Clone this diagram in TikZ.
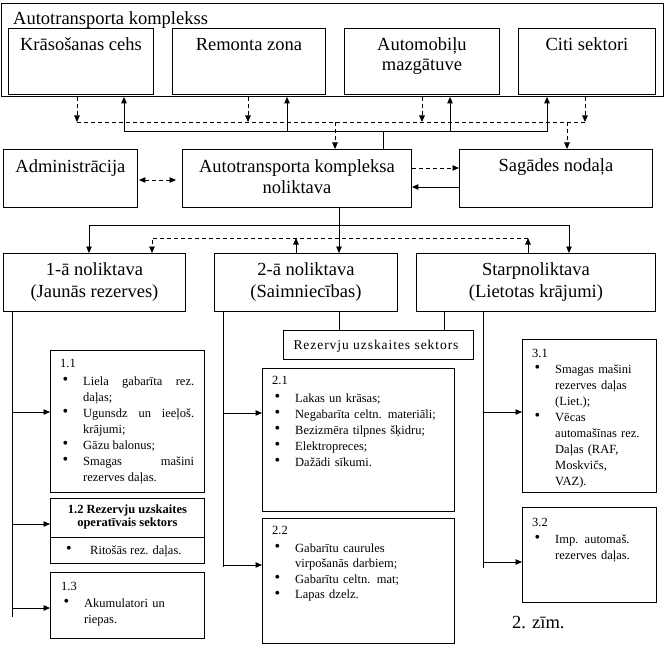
\documentclass[tikz,border=0pt]{standalone}
\usepackage{fontspec}
\setmainfont{Liberation Serif}
\usetikzlibrary{arrows.meta}
\setlength\parindent{0pt}
\newcommand\blt{\raisebox{0.5pt}{\fontsize{16}{16}\selectfont\textbullet}}
\newcommand\bitem[1]{\par\hangindent=23pt\hangafter=1\noindent\makebox[23pt][l]{\hspace{2.5pt}\blt}#1\par}
\newcommand\bigf{\fontsize{18.5}{21}\selectfont}
\newcommand\smf{\fontsize{12.5}{16}\selectfont}
\newcommand\tstr{\rule{0pt}{14pt}}
\newcommand\sstr{\rule{0pt}{10pt}}
\begin{document}
\begin{tikzpicture}[x=1pt,y=-1pt,
  every node/.style={inner sep=0pt},
  box/.style={draw, line width=0.9pt, anchor=north west},
  ln/.style={line width=0.9pt},
  arr/.style={ln, -{Triangle[length=6.5pt,width=5.5pt]}},
  dsh/.style={ln, dash pattern=on 4pt off 3pt},
  darr/.style={dsh, -{Triangle[length=6.5pt,width=5.5pt]}},
  lbl/.style={anchor=north, align=center, font=\bigf},
  txt/.style={anchor=north west, font=\smf, align=left},
]
\useasboundingbox (0,0) rectangle (668,647);

% ---- boxes ----
\node[box, minimum width=662pt, minimum height=93pt] (outer) at (1,3) {};
\node[box, minimum width=145pt, minimum height=66pt] (kras) at (8,28) {};
\node[box, minimum width=153pt, minimum height=66pt] (rem) at (172,28) {};
\node[box, minimum width=155pt, minimum height=66pt] (auto) at (344,28) {};
\node[box, minimum width=137pt, minimum height=66pt] (citi) at (518,28) {};
\node[box, minimum width=134pt, minimum height=58pt] (adm) at (3,149) {};
\node[box, minimum width=229pt, minimum height=58pt] (nol) at (182,149) {};
\node[box, minimum width=193pt, minimum height=58pt] (sag) at (459,149) {};
\node[box, minimum width=182pt, minimum height=58pt] (n1) at (3,253) {};
\node[box, minimum width=183pt, minimum height=58pt] (n2) at (214,253) {};
\node[box, minimum width=239pt, minimum height=58pt] (n3) at (416,253) {};
\node[box, minimum width=190pt, minimum height=29pt] (rez) at (283,330) {};
\node[box, minimum width=154pt, minimum height=142pt] (b11) at (50,350) {};
\node[box, minimum width=154pt, minimum height=65pt] (b12) at (50,498) {};
\node[box, minimum width=154pt, minimum height=66pt] (b13) at (50,572) {};
\node[box, minimum width=192pt, minimum height=143pt] (b21) at (262,368) {};
\node[box, minimum width=192pt, minimum height=125pt] (b22) at (262,518) {};
\node[box, minimum width=134pt, minimum height=153pt] (b31) at (522,339) {};
\node[box, minimum width=134pt, minimum height=95pt] (b32) at (522,507) {};

% ---- big labels ----
\node[anchor=base west, font=\bigf] (outer-t) at (13,25) {Autotransporta komplekss};
\node[lbl] (kras-t) at (kras.north |- 0,36) {\tstr Krāsošanas cehs};
\node[lbl] (rem-t) at (rem.north |- 0,36) {\tstr Remonta zona};
\node[lbl, font=\fontsize{18.5}{20}\selectfont] (auto-t) at (auto.north |- 0,36) {\tstr Automobiļu\\mazgātuve};
\node[lbl] (citi-t) at (citi.north |- 0,36) {\tstr Citi sektori};
\node[lbl] (adm-t) at (adm.north |- 0,158) {\tstr Administrācija};
\node[lbl] (nol-t) at (nol.north |- 0,158) {\tstr Autotransporta kompleksa\\noliktava};
\node[lbl] (sag-t) at (sag.north |- 0,157) {\tstr Sagādes nodaļa};
\node[lbl, font=\fontsize{18.5}{22}\selectfont] (n1-t) at (n1.north |- 0,261) {\tstr 1-ā noliktava\\(Jaunās rezerves)};
\node[lbl, font=\fontsize{18.5}{22}\selectfont] (n2-t) at (n2.north |- 0,261) {\tstr 2-ā noliktava\\(Saimniecības)};
\node[lbl, font=\fontsize{18.5}{22}\selectfont] (n3-t) at (n3.north |- 0,261) {\tstr Starpnoliktava\\(Lietotas krājumi)};
\node[anchor=base, font=\fontsize{13.5}{16}\selectfont\addfontfeature{LetterSpace=7}] (rez-t) at (376,349) {Rezervju uzskaites sektors};
\node[anchor=base west, font=\bigf] (fig) at (512,628) {2. zīm.};

% ---- small text boxes ----
\node[txt, text width=134pt, align=justify] (t11) at (60,357) {\sstr 1.1\par\vspace{2pt}
\bitem{Liela gabarīta rez.\linebreak daļas;}
\bitem{Ugunsdz un ieeļoš.\linebreak krājumi;}
\bitem{Gāzu balonus;}
\bitem{Smagas mašini\linebreak rezerves daļas.}};

\node[anchor=north, align=center, font=\bfseries\fontsize{12.5}{13}\selectfont] (t12h) at (b12.north |- 0,503) {\sstr 1.2 Rezervju uzskaites\\operatīvais sektors};
\draw[ln] (b12.west |- 0,537) -- (b12.east |- 0,537);
\node[anchor=base west, font=\smf] (t12b) at (66,554) {\makebox[24pt][l]{\blt}Ritošās rez. daļas.};

\node[txt, text width=133pt] (t13) at (61,580) {\sstr 1.3\par\vspace{1pt}
\bitem{Akumulatori un\linebreak riepas.}};

\node[txt, text width=172pt] (t21) at (272,374) {\sstr 2.1\par\vspace{2pt}
\bitem{Lakas un krāsas;}
\bitem{Negabarīta celtn. materiāli;}
\bitem{Bezizmēra tilpnes šķidru;}
\bitem{Elektropreces;}
\bitem{Dažādi sīkumi.}};

\node[txt, text width=172pt, font=\fontsize{12.5}{15.5}\selectfont] (t22) at (272,524) {\sstr 2.2\par\vspace{2.5pt}
\bitem{Gabarītu caurules\linebreak virpošanās darbiem;}
\bitem{Gabarītu celtn. mat;}
\bitem{Lapas dzelz.}};

\node[txt, text width=114pt] (t31) at (532,347) {\sstr 3.1\par\vspace{0pt}
\bitem{Smagas mašini\linebreak rezerves daļas\linebreak (Liet.);}
\bitem{Vēcas\linebreak automašīnas rez.\linebreak Daļas (RAF,\linebreak Moskvičs,\linebreak VAZ).}};

\node[txt, text width=114pt] (t32) at (532,516) {\sstr 3.2\par\vspace{1pt}
\bitem{Imp. automaš.\linebreak rezerves daļas.}};

% ---- top connectors ----
\coordinate (s0) at (383,131);
\draw[ln] (nol.north -| s0) -- (s0);
\draw[arr] (s0) -| (outer.south -| 124,0);
\draw[arr] (s0) -| (outer.south -| 287,0);
\draw[arr] (s0) -| (outer.south -| 450,0);
\draw[arr] (s0) -| (outer.south -| 547,0);

\draw[darr] (outer.south -| 77,0) -- (77,122);
\draw[darr] (outer.south -| 248,0) -- (248,122);
\draw[darr] (outer.south -| 422,0) -- (422,122);
\draw[darr] (outer.south -| 585,0) -- (585,122);
\draw[dsh] (77,122) -- (585,122);
\draw[darr] (335,122) -- (nol.north -| 335,0);
\draw[darr] (567,122) -- (sag.north -| 567,0);

% ---- middle connectors ----
\draw[dsh, {Triangle[length=6.5pt,width=5.5pt]}-{Triangle[length=6.5pt,width=5.5pt]}, shorten <=1pt, shorten >=6pt] (adm.east |- 0,180) -- (nol.west |- 0,180);
\draw[darr] (nol.east |- 0,168) -- (sag.west |- 0,168);
\draw[arr] (sag.west |- 0,187) -- (nol.east |- 0,187);

% ---- lower connectors ----
\coordinate (s1) at (339,225);
\draw[arr] (nol.south -| s1) -- (n2.north -| s1);
\draw[arr] (s1) -| (n1.north -| 89,0);
\draw[arr] (s1) -| (n3.north -| 569,0);
\draw[darr] (528,238) -| (n1.north -| 152,0);
\draw[arr] (n2.north -| 296,0) -- (296,238);
\draw[arr] (n3.north -| 528,0) -- (528,238);

\draw[ln] (n2.south -| 339,0) -- (rez.north -| 339,0);
\draw[ln] (n3.south -| 444,0) -- (rez.north -| 444,0);

% ---- branches ----
\draw[ln] (n1.south -| 12,0) -- (12,617);
\draw[arr] (12,412) -- (b11.west |- 0,412);
\draw[arr] (12,524) -- (b12.west |- 0,524);
\draw[arr] (12,608) -- (b13.west |- 0,608);

\draw[ln] (n2.south -| 223,0) -- (223,567);
\draw[arr] (223,413) -- (b21.west |- 0,413);
\draw[arr] (223,565) -- (b22.west |- 0,565);

\draw[ln] (n3.south -| 483,0) -- (483,568);
\draw[arr] (483,412) -- (b31.west |- 0,412);
\draw[arr] (483,562) -- (b32.west |- 0,562);
\end{tikzpicture}
\end{document}
